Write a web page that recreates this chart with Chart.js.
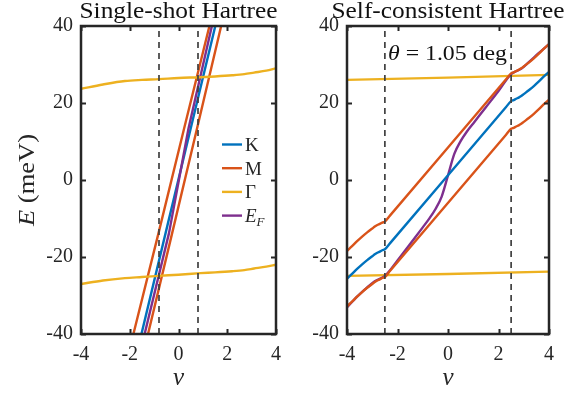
<!DOCTYPE html>
<html><head><meta charset="utf-8">
<script src="https://cdn.jsdelivr.net/npm/chart.js@4"></script>
<style>
html,body{margin:0;padding:0;background:#fff;}
#wrap{position:relative;width:575px;height:394px;overflow:hidden;}
.pn{position:absolute;top:0;height:394px;}
</style></head><body>
<div id="wrap">
<div class="pn" style="left:0;width:290px"><canvas id="c1" width="290" height="394"></canvas></div>
<div class="pn" style="left:290px;width:285px"><canvas id="c2" width="285" height="394"></canvas></div>
</div>
<script>
// ---------- data ----------
const xTicks = [-4, -2, 0, 2, 4];
const yTicks = [-40, -20, 0, 20, 40];

// Left panel: Single-shot Hartree
const ssK_nu  = [-1.52, -0.53, 0.50, 1.51];
const ssK_E   = [-40, -13.8, 13.4, 40];
const ssM1_nu = [-1.85, -0.82, 0.23, 1.27];
const ssM1_E  = [-40, -13.8, 13.4, 40];
const ssM2_nu = [-1.25, -0.26, 0.76, 1.75];
const ssM2_E  = [-40, -13.8, 13.4, 40];
const ssEF_nu = [-1.39, -0.39, 0.41, 1.37];
const ssEF_E  = [-40, -13.8, 13.4, 40];
const ssG_nu  = [-4, -3.1, -2.2, -1.5, -0.8, 0, 0.9, 1.5, 2.2, 2.7, 3.1, 3.6, 4];
const ssG1_E  = [23.7, 24.8, 25.7, 26.0, 26.2, 26.5, 26.7, 26.9, 27.2, 27.5, 27.9, 28.4, 29.0];
const ssG2_E  = [-27.0, -26.1, -25.5, -25.2, -24.9, -24.6, -24.2, -24.0, -23.7, -23.4, -23.0, -22.5, -22.0];
const ssDash_nu = [-0.8, 0.8];

// Right panel: Self-consistent Hartree
const scBand_nu = [-4, -3.8, -3.6, -3.4, -3.2, -3.0, -2.9, -2.8, -2.7, -2.6, -2.5, -2.3,
                   2.3, 2.5, 2.6, 2.7, 2.8, 2.9, 3.0, 3.2, 3.4, 3.6, 3.8, 4];
const scK_E  = [-25.6, -24.4, -23.1, -21.9, -20.8, -19.8, -19.3, -18.9, -18.6, -18.25, -18.0, -16.46,
                18.96, 20.5, 20.75, 21.1, 21.4, 21.8, 22.3, 23.3, 24.4, 25.6, 26.9, 28.1];
const scM1_E = [-18.4, -17.2, -15.9, -14.7, -13.6, -12.6, -12.1, -11.7, -11.4, -11.05, -10.8, -9.26,
                26.16, 27.7, 27.95, 28.3, 28.6, 29.0, 29.5, 30.5, 31.6, 32.8, 34.1, 35.3];
const scM2_E = [-32.8, -31.6, -30.3, -29.1, -28.0, -27.0, -26.5, -26.1, -25.8, -25.45, -25.2, -23.66,
                11.76, 13.3, 13.55, 13.9, 14.2, 14.6, 15.1, 16.1, 17.2, 18.4, 19.7, 20.9];
const scEF_nu = [-4, -3.6, -3.2, -2.9, -2.5, -2.0, -1.5, -1.0, -0.75, -0.5, -0.25, 0, 0.25, 0.5, 0.75, 1.0, 1.5, 2.0, 2.5, 2.9, 3.2, 3.6, 4];
const scEF_E  = [-33.1, -30.3, -27.9, -26.3, -24.9, -20.9, -16.6, -12.3, -10.1, -7.6, -4.3, 1.2, 6.8, 10.1, 12.6, 14.7, 18.9, 23.1, 27.5, 28.9, 30.6, 33.0, 35.3];
const scG_nu  = [-4, 0, 4];
const scG1_E  = [26.0, 26.6, 27.3];
const scG2_E  = [-24.9, -24.4, -23.8];
const scDash_nu = [-2.5, 2.5];
const dashE = [-40, 40];

// ---------- style ----------
const FONT = "'Liberation Serif','Times New Roman',serif";
const INK = '#262626';
const C = { K: '#0072BD', M: '#D95319', G: '#EDB120', EF: '#7E2F8E', dash: '#404040' };

function pts(xs, ys) { return xs.map((x, i) => ({ x: x, y: ys[i] })); }
function line(label, xs, ys, color, order, extra) {
  return Object.assign({
    label: label, data: pts(xs, ys), borderColor: color, backgroundColor: color,
    borderWidth: 2.4, pointRadius: 0, showLine: true, tension: 0, order: order,
    borderCapStyle: 'butt', borderJoinStyle: 'round'
  }, extra || {});
}
function dash(x) {
  return { label: '', data: pts([x, x], dashE), borderColor: C.dash, borderWidth: 1.7,
    borderDash: [6, 5], pointRadius: 0, showLine: true, order: 0 };
}

function rich(ctx, parts, x, y, targetW, align) {
  let total = 0;
  parts.forEach(p => { ctx.font = p.font; p.w = ctx.measureText(p.t).width; total += p.w; });
  const s = targetW ? targetW / total : 1;
  ctx.save();
  ctx.translate(x, y);
  ctx.scale(s, 1);
  let cx = align === 'center' ? -total / 2 : 0;
  ctx.textBaseline = 'alphabetic';
  ctx.textAlign = 'left';
  parts.forEach(p => { ctx.font = p.font; ctx.fillText(p.t, cx, p.dy || 0); cx += p.w; });
  ctx.restore();
}

const panelPlugin = {
  id: 'panel',
  afterDraw(chart, args, o) {
    const ctx = chart.ctx, a = chart.chartArea;
    const xs = chart.scales.x, ys = chart.scales.y;
    ctx.save();
    ctx.strokeStyle = INK; ctx.lineWidth = 2;
    ctx.beginPath();
    xTicks.forEach(v => { const p = Math.round(xs.getPixelForValue(v)) + 0.5;
      ctx.moveTo(p, a.bottom); ctx.lineTo(p, a.bottom - 5); ctx.moveTo(p, a.top); ctx.lineTo(p, a.top + 5); });
    yTicks.forEach(v => { const p = Math.round(ys.getPixelForValue(v)) + 0.5;
      ctx.moveTo(a.left, p); ctx.lineTo(a.left + 5, p); ctx.moveTo(a.right, p); ctx.lineTo(a.right - 5, p); });
    ctx.stroke();
    ctx.lineWidth = 2.5;
    ctx.strokeRect(a.left, a.top, a.right - a.left, a.bottom - a.top);
    ctx.fillStyle = '#111';
    const cx = (a.left + a.right) / 2;
    rich(ctx, [{ t: o.title, font: '23px ' + FONT }], cx, 18, o.titleW, 'center');
    ctx.fillStyle = INK;
    rich(ctx, [{ t: 'ν', font: 'italic 25px ' + FONT }], cx, 385, 0, 'center');
    if (o.yTitle) {
      ctx.save();
      ctx.translate(34, (a.top + a.bottom) / 2);
      ctx.rotate(-Math.PI / 2);
      rich(ctx, [{ t: 'E', font: 'italic 23px ' + FONT }, { t: ' (meV)', font: '23px ' + FONT }], 0, 0, 92, 'center');
      ctx.restore();
    }
    if (o.legend) {
      const seen = {};
      let row = 0;
      chart.data.datasets.forEach(ds => {
        if (!ds.label || seen[ds.label]) return;
        seen[ds.label] = 1;
        const y = o.legend.y + row * o.legend.dy;
        ctx.strokeStyle = ds.borderColor; ctx.lineWidth = 2.4;
        ctx.beginPath(); ctx.moveTo(o.legend.x, y); ctx.lineTo(o.legend.x + 20, y); ctx.stroke();
        ctx.fillStyle = INK;
        let parts;
        if (ds.label === 'E_F') parts = [{ t: 'E', font: 'italic 19px ' + FONT }, { t: 'F', font: 'italic 13px ' + FONT, dy: 4 }];
        else parts = [{ t: ds.label, font: '19px ' + FONT }];
        rich(ctx, parts, o.legend.x + 23, y + 6.5, 0, 'left');
        row++;
      });
    }
    if (o.theta) {
      ctx.fillStyle = '#111';
      rich(ctx, [{ t: 'θ', font: 'italic 21px ' + FONT }, { t: ' = ', font: '21px ' + FONT }, { t: '1.05 deg', font: '21px ' + FONT }],
        o.theta.x, o.theta.y, o.theta.w, 'left');
    }
    ctx.restore();
  }
};

function makeChart(id, datasets, padRight, yWidth, panelOpts) {
  return new Chart(document.getElementById(id), {
    type: 'scatter',
    data: { datasets: datasets },
    plugins: [panelPlugin],
    options: {
      responsive: false, animation: false, devicePixelRatio: 1,
      layout: { padding: { top: 26, right: padRight, left: 0, bottom: 0 } },
      plugins: { legend: { display: false }, tooltip: { enabled: false }, panel: panelOpts },
      scales: {
        x: {
          type: 'linear', min: -4, max: 4,
          afterBuildTicks: s => { s.ticks = xTicks.map(v => ({ value: v })); },
          afterFit: s => { s.height = 60; },
          grid: { display: false, drawTicks: false }, border: { display: false },
          ticks: { padding: 9, color: INK, font: { family: FONT, size: 20 }, maxRotation: 0, autoSkip: false }
        },
        y: {
          type: 'linear', min: -40, max: 40,
          afterBuildTicks: s => { s.ticks = yTicks.map(v => ({ value: v })); },
          afterFit: s => { s.width = yWidth; },
          grid: { display: false, drawTicks: false }, border: { display: false },
          ticks: { padding: 8, color: INK, font: { family: FONT, size: 20 }, autoSkip: false }
        }
      }
    }
  });
}

const smooth = { cubicInterpolationMode: 'monotone' };

makeChart('c1', [
  dash(ssDash_nu[0]), dash(ssDash_nu[1]),
  line('K', ssK_nu, ssK_E, C.K, 3),
  line('M', ssM1_nu, ssM1_E, C.M, 3),
  line('Γ', ssG_nu, ssG1_E, C.G, 1, smooth),
  line('E_F', ssEF_nu, ssEF_E, C.EF, 2),
  line('M', ssM2_nu, ssM2_E, C.M, 3),
  line('Γ', ssG_nu, ssG2_E, C.G, 1, smooth)
], 8, 81, { title: 'Single-shot Hartree', titleW: 198, yTitle: true, legend: { x: 222, y: 144.5, dy: 23.7 } });

makeChart('c2', [
  dash(scDash_nu[0]), dash(scDash_nu[1]),
  line('Γ', scG_nu, scG1_E, C.G, 4),
  line('Γ', scG_nu, scG2_E, C.G, 4),
  line('K', scBand_nu, scK_E, C.K, 3, smooth),
  line('M', scBand_nu, scM1_E, C.M, 2, smooth),
  line('M', scBand_nu, scM2_E, C.M, 2, smooth),
  line('E_F', scEF_nu, scEF_E, C.EF, 3, smooth)
], 26, 57, { title: 'Self-consistent Hartree', titleW: 233, yTitle: false, theta: { x: 98, y: 60, w: 119 } });
</script>
</body></html>
